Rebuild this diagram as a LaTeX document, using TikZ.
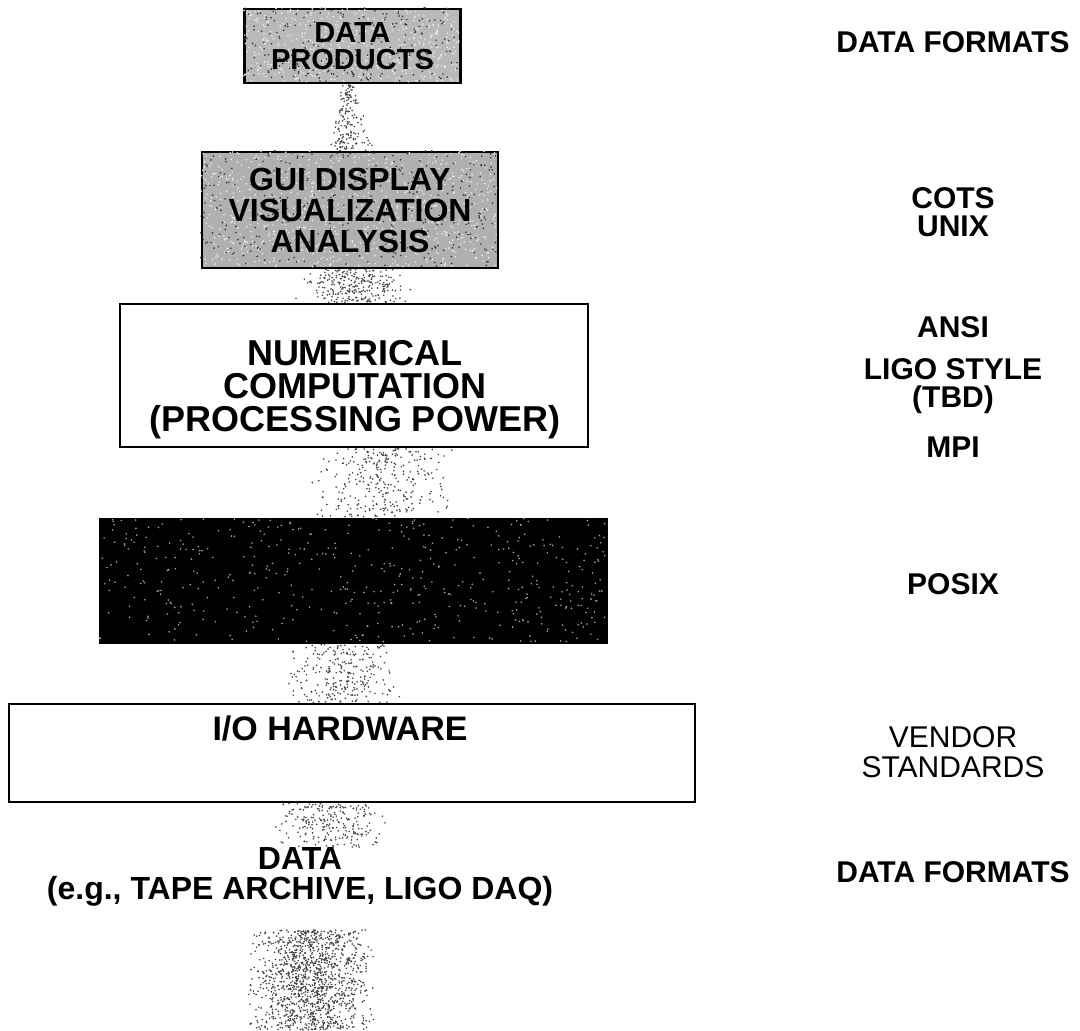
\documentclass[tikz,border=0pt]{standalone}
\usepackage{fontspec}
\setmainfont{Liberation Sans}
\usetikzlibrary{calc}

% stippled beam between two anchors: #2 top, #3 bottom, #4/#5 half widths, #6 dots
\newcommand{\flowdots}[6][black!75]{%
  \foreach \k in {1,...,#6}{%
    \pgfmathsetmacro{\fpos}{rnd}%
    \pgfmathsetmacro{\fside}{(rnd+rnd-1)*(#4+(#5-#4)*\fpos)}%
    \fill[#1] ($(#2)!\fpos!(#3)+(\fside,0)$) circle[radius=0.9];
  }}
% grain inside a box: node, width, height, dots, colour
\newcommand{\grain}[5]{%
  \foreach \k in {1,...,#4}{%
    \pgfmathsetmacro{\ga}{rnd*#2}\pgfmathsetmacro{\gb}{rnd*#3}%
    \fill[#5] ($(#1.north west)+(\ga,\gb)$) circle[radius=0.9];
  }}

\tikzset{
  layer/.style={draw=black, line width=1.3pt, inner sep=0pt},
  boxtext/.style={font=\bfseries, align=center, inner sep=0pt},
  side/.style={font=\bfseries\fontsize{15pt}{14pt}\selectfont, align=center, inner sep=0pt},
}

\begin{document}
\begin{tikzpicture}[x=0.5pt, y=-0.5pt]
\pgfmathsetseed{4711}
\useasboundingbox (0,0) rectangle (1080,1030);

% layers of the stack
\node[layer, fill=gray!55, minimum width=108pt, minimum height=37pt] (products) at (352.5,46) {};
\node[layer, fill=gray!62, minimum width=148pt, minimum height=58pt] (gui) at (350,210) {};
\node[layer, fill=white, minimum width=234pt, minimum height=71.5pt] (numeric) at (354,375.5) {};
\node[layer, fill=black, minimum width=253.5pt, minimum height=62pt] (system) at (353.5,581) {};
\node[layer, fill=white, minimum width=343pt, minimum height=49pt] (iohw) at (352,753) {};

\grain{products}{216}{74}{500}{white!85!gray}
\grain{products}{216}{74}{250}{black!80}
\grain{gui}{296}{116}{800}{white!85!gray}
\grain{gui}{296}{116}{400}{black!80}
\grain{system}{507}{124}{500}{gray!70}

% text of the layers
\node[boxtext, font=\bfseries\fontsize{14.5pt}{13.5pt}\selectfont] (productstext) at (products) {DATA\\PRODUCTS};
\node[boxtext, font=\bfseries\fontsize{16pt}{15.5pt}\selectfont] (guitext) at (gui) {GUI DISPLAY\\VISUALIZATION\\ANALYSIS};
\node[boxtext, font=\bfseries\fontsize{18pt}{16.5pt}\selectfont] (numerictext) at (355,390) {NUMERICAL\\COMPUTATION\\(PROCESSING POWER)};
\node[boxtext, font=\bfseries\fontsize{17pt}{15pt}\selectfont] (iotext) at (340,729) {I/O HARDWARE};
\node[boxtext, font=\bfseries\fontsize{16pt}{15pt}\selectfont] (datasrc) at (300,877) {DATA\\(e.g., TAPE ARCHIVE, LIGO DAQ)};

% stippled data flow
\flowdots{$(products.south)+(-4,0)$}{$(gui.north)+(-2,0)$}{6}{28}{160}
\flowdots{$(gui.south)+(5,0)$}{$(numeric.north)+(2,0)$}{50}{62}{260}
\flowdots{$(numeric.south)+(30,0)$}{$(system.north)+(30,0)$}{70}{85}{300}
\flowdots{$(system.south)+(-12,0)$}{$(iohw.north)+(-12,0)$}{55}{62}{260}
\flowdots{$(iohw.south)+(-22,0)$}{$(datasrc.north)+(30,0)$}{62}{65}{230}
\coordinate (beamtop) at (311,930);
\coordinate (beamend) at (311,1030);
\flowdots{beamtop}{beamend}{62}{68}{1300}

% standards column
\node[side] (fmttop) at (953,42) {DATA FORMATS};
\node[side] (cots) at (953,212) {COTS\\UNIX};
\node[side] (ansi) at (953,327) {ANSI};
\node[side] (ligo) at (953,386) {LIGO STYLE\\(TBD)};
\node[side] (mpi) at (953,447) {MPI};
\node[side] (posix) at (953,584) {POSIX};
\node[side, font=\fontsize{15pt}{15pt}\selectfont] (vendor) at (953,752) {VENDOR\\STANDARDS};
\node[side] (fmtbot) at (953,872) {DATA FORMATS};
\end{tikzpicture}
\end{document}
